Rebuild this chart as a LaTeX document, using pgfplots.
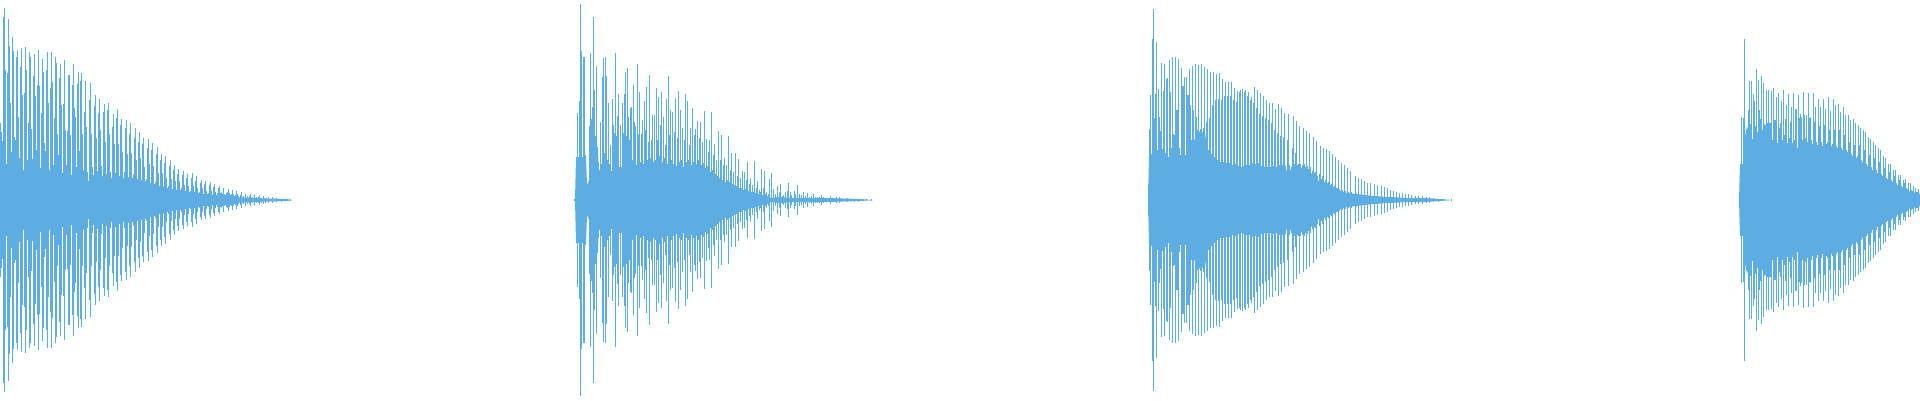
\documentclass[border=0pt]{standalone}
\usepackage{pgfplots}
\usepackage{pgfplotstable}
\pgfplotsset{compat=1.18}
\definecolor{wave}{HTML}{5DADE2}

% columns: pixel column, half height of the spike
\pgfplotstableread[row sep=\\]{x a\\
0.5 77\\ 1.5 68\\ 2.5 59\\ 3.5 183\\ 4.5 192\\ 5.5 130\\ 7.5 127\\ 8.5 181\\ 9.5 154\\ 10.5 97\\ 11.5 48\\ 12.5 163\\ 13.5 149\\ 14.5 63\\ 15.5 60\\ 16.5 143\\ 17.5 150\\ 18.5 83\\ 20.5 133\\ 21.5 152\\ 22.5 105\\ 24.5 107\\ 25.5 153\\ 26.5 130\\ 28.5 77\\ 29.5 148\\ 30.5 143\\ 31.5 71\\ 33.5 124\\ 34.5 146\\ 35.5 104\\ 37.5 115\\ 38.5 150\\ 39.5 114\\ 41.5 87\\ 42.5 141\\ 43.5 128\\ 44.5 57\\ 46.5 130\\ 47.5 148\\ 48.5 97\\ 50.5 112\\ 51.5 148\\ 52.5 118\\ 54.5 82\\ 55.5 143\\ 56.5 137\\ 57.5 66\\ 59.5 122\\ 60.5 136\\ 61.5 95\\ 63.5 96\\ 64.5 140\\ 65.5 70\\ 67.5 69\\ 68.5 125\\ 69.5 125\\ 70.5 65\\ 72.5 115\\ 73.5 136\\ 74.5 92\\ 75.5 83\\ 77.5 116\\ 78.5 128\\ 79.5 49\\ 80.5 119\\ 81.5 127\\ 82.5 66\\ 84.5 88\\ 85.5 119\\ 86.5 73\\ 89.5 100\\ 90.5 117\\ 91.5 66\\ 94.5 94\\ 95.5 105\\ 96.5 62\\ 98.5 87\\ 99.5 101\\ 100.5 70\\ 103.5 88\\ 104.5 96\\ 105.5 58\\ 107.5 90\\ 108.5 97\\ 109.5 66\\ 112.5 73\\ 113.5 86\\ 114.5 56\\ 116.5 82\\ 117.5 91\\ 118.5 56\\ 120.5 75\\ 121.5 81\\ 122.5 48\\ 125.5 72\\ 126.5 80\\ 127.5 46\\ 129.5 66\\ 130.5 77\\ 131.5 47\\ 134.5 62\\ 135.5 72\\ 136.5 40\\ 138.5 58\\ 139.5 68\\ 140.5 42\\ 142.5 56\\ 143.5 62\\ 144.5 33\\ 147.5 52\\ 148.5 61\\ 149.5 36\\ 151.5 50\\ 152.5 57\\ 153.5 34\\ 156.5 46\\ 157.5 53\\ 158.5 27\\ 160.5 40\\ 161.5 46\\ 162.5 27\\ 164.5 37\\ 165.5 44\\ 166.5 22\\ 169.5 34\\ 170.5 40\\ 171.5 21\\ 173.5 30\\ 174.5 35\\ 175.5 19\\ 177.5 26\\ 178.5 31\\ 179.5 19\\ 182.5 25\\ 183.5 29\\ 184.5 15\\ 186.5 22\\ 187.5 26\\ 188.5 14\\ 191.5 22\\ 192.5 27\\ 193.5 14\\ 195.5 19\\ 196.5 24\\ 197.5 12\\ 200.5 17\\ 201.5 20\\ 202.5 12\\ 204.5 16\\ 205.5 19\\ 206.5 9\\ 209.5 15\\ 210.5 18\\ 211.5 9\\ 213.5 13\\ 214.5 16\\ 215.5 8\\ 218.5 12\\ 219.5 14\\ 223.5 12\\ 228.5 11\\ 232.5 10\\ 236.5 9\\ 241.5 8\\ 245.5 6\\ 250.5 6\\ 254.5 5\\ 259.5 5\\ 263.5 4\\ 268.5 3\\ 272.5 3\\ 276.5 2\\ 281.5 1.5\\ 285.5 1\\ 290.5 1\\
6.5 36\\ 19.5 42\\ 23.5 30\\ 27.5 40\\ 32.5 41\\ 36.5 50\\ 40.5 32\\ 45.5 49\\ 49.5 30\\ 53.5 35\\ 58.5 45\\ 62.5 27\\ 66.5 35\\ 71.5 25\\ 76.5 33\\ 83.5 30\\ 87.5 28\\ 92.5 33\\ 93.5 25\\ 97.5 29\\ 101.5 34\\ 102.5 24\\ 106.5 26\\ 110.5 28\\ 111.5 22\\ 115.5 27\\ 119.5 24\\ 123.5 22\\ 124.5 28\\ 128.5 23\\ 132.5 22\\ 133.5 26\\ 137.5 21\\ 141.5 20\\ 145.5 19\\ 146.5 21\\ 150.5 17\\ 154.5 16\\ 155.5 18\\ 159.5 14\\ 163.5 14\\ 167.5 12\\ 168.5 14\\ 172.5 11\\ 176.5 10\\ 180.5 10\\ 181.5 12\\ 185.5 9\\ 189.5 8\\ 190.5 9\\ 194.5 8\\ 198.5 7\\ 199.5 8\\ 203.5 6\\ 207.5 6\\ 208.5 7\\ 212.5 5\\ 216.5 5\\ 217.5 7\\ 220.5 7\\ 221.5 8\\ 222.5 6\\ 224.5 6\\ 225.5 5\\ 226.5 7\\ 227.5 8\\ 229.5 7\\ 230.5 5\\ 231.5 6\\ 233.5 6\\ 234.5 4\\ 235.5 5\\ 237.5 6\\ 238.5 4\\ 240.5 5\\ 243.5 4\\ 247.5 4\\ 249.5 4\\ 252.5 3\\ 256.5 3\\ 258.5 3\\ 261.5 2.5\\ 265.5 2.5\\
}\wavea

\pgfplotstableread[row sep=\\]{x a\\
574.5 1\\ 575.5 5\\ 577.5 87\\ 579.5 99\\ 580.5 196\\ 581.5 149\\ 583.5 143\\ 584.5 143\\ 585.5 45\\ 586.5 23\\ 589.5 74\\ 590.5 147\\ 591.5 81\\ 592.5 93\\ 593.5 183\\ 594.5 110\\ 595.5 64\\ 596.5 134\\ 597.5 53\\ 600.5 78\\ 601.5 36\\ 602.5 123\\ 603.5 142\\ 604.5 47\\ 605.5 143\\ 606.5 124\\ 607.5 40\\ 608.5 97\\ 609.5 36\\ 610.5 55\\ 611.5 29\\ 612.5 101\\ 613.5 75\\ 614.5 67\\ 615.5 147\\ 616.5 64\\ 617.5 84\\ 618.5 106\\ 619.5 33\\ 620.5 75\\ 621.5 33\\ 622.5 97\\ 623.5 67\\ 624.5 106\\ 625.5 128\\ 626.5 64\\ 627.5 132\\ 628.5 83\\ 629.5 60\\ 630.5 92\\ 631.5 93\\ 633.5 115\\ 634.5 78\\ 635.5 74\\ 637.5 136\\ 638.5 66\\ 639.5 108\\ 641.5 66\\ 642.5 80\\ 644.5 99\\ 645.5 70\\ 646.5 113\\ 648.5 58\\ 649.5 125\\ 651.5 60\\ 652.5 85\\ 654.5 85\\ 656.5 112\\ 657.5 60\\ 658.5 103\\ 660.5 75\\ 661.5 108\\ 663.5 83\\ 665.5 55\\ 666.5 101\\ 668.5 124\\ 669.5 65\\ 670.5 90\\ 672.5 88\\ 674.5 68\\ 675.5 102\\ 677.5 62\\ 678.5 109\\ 680.5 90\\ 682.5 72\\ 684.5 60\\ 685.5 106\\ 687.5 99\\ 689.5 55\\ 690.5 72\\ 692.5 92\\ 694.5 65\\ 695.5 71\\ 697.5 79\\ 699.5 62\\ 700.5 78\\ 702.5 58\\ 704.5 89\\ 706.5 61\\ 708.5 48\\ 709.5 60\\ 711.5 88\\ 713.5 45\\ 714.5 56\\ 716.5 40\\ 718.5 69\\ 720.5 40\\ 721.5 65\\ 723.5 35\\ 724.5 42\\ 726.5 35\\ 728.5 64\\ 730.5 30\\ 731.5 47\\ 733.5 28\\ 735.5 47\\ 737.5 24\\ 738.5 41\\ 740.5 22\\ 742.5 29\\ 744.5 28\\ 746.5 20\\ 747.5 38\\ 749.5 16\\ 750.5 22\\ 752.5 15\\ 754.5 39\\ 756.5 12\\ 757.5 19\\ 759.5 10\\ 761.5 31\\ 763.5 12\\ 764.5 29\\ 766.5 8\\ 769.5 21\\ 771.5 27\\ 773.5 11\\ 777.5 14\\ 780.5 16\\ 783.5 5\\ 788.5 17\\ 790.5 8\\ 794.5 9\\ 797.5 15\\ 803.5 8\\ 807.5 7\\ 809.5 3\\ 813.5 6\\ 817.5 3\\ 821.5 5\\ 825.5 2\\ 830.5 4\\ 836.5 3\\ 839.5 3\\ 847.5 2\\ 854.5 1.5\\ 858.5 1.5\\ 863.5 1\\ 866.5 1\\ 871.5 1\\
598.5 38\\ 599.5 30\\ 632.5 40\\ 636.5 35\\ 640.5 38\\ 643.5 36\\ 647.5 40\\ 650.5 42\\ 653.5 38\\ 655.5 40\\ 659.5 44\\ 662.5 38\\ 664.5 42\\ 667.5 36\\ 671.5 40\\ 673.5 36\\ 676.5 34\\ 679.5 38\\ 681.5 40\\ 683.5 33\\ 686.5 38\\ 688.5 40\\ 691.5 35\\ 693.5 38\\ 696.5 36\\ 698.5 40\\ 701.5 35\\ 703.5 37\\ 705.5 32\\ 707.5 34\\ 710.5 28\\ 712.5 30\\ 715.5 26\\ 717.5 24\\ 719.5 22\\ 722.5 20\\ 725.5 18\\ 727.5 20\\ 729.5 18\\ 732.5 16\\ 734.5 15\\ 736.5 14\\ 739.5 12\\ 741.5 12\\ 743.5 10\\ 745.5 11\\ 748.5 9\\ 751.5 8\\ 753.5 8\\ 755.5 7\\ 758.5 6\\ 760.5 8\\ 762.5 5\\ 765.5 6\\ 767.5 4\\ 768.5 6\\ 775.5 6\\ 779.5 8\\ 782.5 4\\ 785.5 8\\ 787.5 9\\ 791.5 5\\ 795.5 6\\ 799.5 6\\ 801.5 5\\ 805.5 4\\ 811.5 4\\ 815.5 3\\ 819.5 3\\ 823.5 3\\
}\waveb

\pgfplotstableread[row sep=\\]{x a\\
1148.5 15\\ 1149.5 71\\ 1150.5 105\\ 1151.5 46\\ 1152.5 161\\ 1153.5 191\\ 1154.5 82\\ 1155.5 106\\ 1156.5 158\\ 1157.5 50\\ 1158.5 111\\ 1159.5 83\\ 1160.5 69\\ 1161.5 137\\ 1162.5 51\\ 1163.5 109\\ 1164.5 136\\ 1165.5 47\\ 1166.5 121\\ 1167.5 122\\ 1169.5 140\\ 1170.5 108\\ 1171.5 52\\ 1172.5 143\\ 1173.5 66\\ 1174.5 65\\ 1175.5 143\\ 1176.5 90\\ 1177.5 90\\ 1178.5 141\\ 1179.5 52\\ 1180.5 45\\ 1181.5 132\\ 1182.5 114\\ 1183.5 114\\ 1184.5 123\\ 1185.5 45\\ 1186.5 123\\ 1187.5 105\\ 1188.5 105\\ 1189.5 131\\ 1190.5 95\\ 1191.5 60\\ 1192.5 134\\ 1193.5 90\\ 1194.5 55\\ 1195.5 136\\ 1196.5 83\\ 1197.5 70\\ 1198.5 135\\ 1200.5 71\\ 1201.5 136\\ 1202.5 64\\ 1203.5 72\\ 1204.5 133\\ 1206.5 78\\ 1207.5 131\\ 1209.5 82\\ 1210.5 128\\ 1212.5 95\\ 1213.5 128\\ 1215.5 100\\ 1216.5 126\\ 1218.5 101\\ 1219.5 127\\ 1221.5 100\\ 1222.5 121\\ 1224.5 104\\ 1225.5 118\\ 1227.5 104\\ 1228.5 118\\ 1230.5 104\\ 1231.5 118\\ 1233.5 100\\ 1234.5 112\\ 1236.5 98\\ 1237.5 109\\ 1239.5 108\\ 1240.5 110\\ 1242.5 111\\ 1244.5 108\\ 1245.5 110\\ 1247.5 104\\ 1248.5 108\\ 1250.5 100\\ 1251.5 103\\ 1253.5 97\\ 1254.5 113\\ 1256.5 92\\ 1257.5 110\\ 1259.5 86\\ 1260.5 107\\ 1262.5 84\\ 1263.5 104\\ 1265.5 82\\ 1266.5 100\\ 1268.5 80\\ 1269.5 97\\ 1271.5 77\\ 1272.5 97\\ 1274.5 70\\ 1275.5 91\\ 1277.5 67\\ 1278.5 96\\ 1280.5 64\\ 1281.5 92\\ 1283.5 63\\ 1284.5 87\\ 1287.5 60\\ 1288.5 86\\ 1292.5 52\\ 1293.5 84\\ 1295.5 47\\ 1296.5 79\\ 1298.5 36\\ 1299.5 74\\ 1302.5 35\\ 1303.5 72\\ 1305.5 33\\ 1306.5 69\\ 1308.5 31\\ 1309.5 67\\ 1312.5 29\\ 1313.5 63\\ 1315.5 28\\ 1316.5 59\\ 1319.5 26\\ 1320.5 54\\ 1322.5 24\\ 1323.5 52\\ 1325.5 20\\ 1326.5 51\\ 1328.5 18\\ 1329.5 49\\ 1331.5 16\\ 1332.5 46\\ 1334.5 14\\ 1335.5 43\\ 1337.5 12\\ 1338.5 40\\ 1341.5 37\\ 1344.5 35\\ 1347.5 32\\ 1350.5 29\\ 1355.5 24\\ 1358.5 22\\ 1361.5 21\\ 1364.5 19\\ 1367.5 17\\ 1370.5 17\\ 1374.5 16\\ 1377.5 15\\ 1381.5 14\\ 1384.5 13\\ 1387.5 12\\ 1390.5 10\\ 1393.5 9\\ 1396.5 8\\ 1399.5 7\\ 1402.5 7\\ 1405.5 6\\ 1408.5 6\\ 1411.5 5\\ 1415.5 4\\ 1418.5 4\\ 1422.5 4\\ 1426.5 3\\ 1429.5 3\\ 1433.5 2\\ 1438.5 1.5\\ 1443.5 1\\ 1451.5 1\\
1208.5 50\\ 1211.5 46\\ 1214.5 43\\ 1217.5 40\\ 1220.5 38\\ 1223.5 38\\ 1226.5 37\\ 1229.5 37\\ 1232.5 35\\ 1235.5 36\\ 1238.5 34\\ 1241.5 33\\ 1243.5 34\\ 1246.5 35\\ 1249.5 35\\ 1252.5 37\\ 1255.5 36\\ 1258.5 37\\ 1261.5 34\\ 1264.5 33\\ 1267.5 33\\ 1270.5 33\\ 1273.5 34\\ 1276.5 33\\ 1279.5 35\\ 1282.5 35\\ 1285.5 34\\ 1289.5 35\\ 1291.5 33\\ 1294.5 36\\ 1297.5 35\\ 1300.5 36\\ 1304.5 36\\ 1307.5 34\\ 1310.5 33\\ 1314.5 27\\ 1317.5 24\\ 1321.5 21\\ 1324.5 18\\ 1327.5 17\\ 1330.5 15\\ 1333.5 13\\ 1336.5 12\\ 1339.5 11\\ 1342.5 10\\ 1345.5 9\\ 1348.5 8\\ 1351.5 8\\ 1356.5 7\\
}\wavec

\pgfplotstableread[row sep=\\]{x a\\
1739.5 3\\ 1741.5 83\\ 1743.5 82\\ 1744.5 161\\ 1748.5 90\\ 1749.5 119\\ 1750.5 76\\ 1751.5 119\\ 1753.5 106\\ 1754.5 99\\ 1755.5 74\\ 1756.5 131\\ 1757.5 68\\ 1758.5 120\\ 1759.5 90\\ 1760.5 81\\ 1761.5 124\\ 1762.5 70\\ 1763.5 117\\ 1764.5 76\\ 1765.5 75\\ 1766.5 110\\ 1767.5 77\\ 1768.5 110\\ 1769.5 77\\ 1770.5 77\\ 1771.5 109\\ 1772.5 60\\ 1773.5 112\\ 1774.5 80\\ 1775.5 80\\ 1776.5 103\\ 1777.5 57\\ 1778.5 107\\ 1779.5 72\\ 1780.5 77\\ 1781.5 99\\ 1782.5 60\\ 1783.5 110\\ 1784.5 65\\ 1785.5 81\\ 1786.5 95\\ 1787.5 57\\ 1788.5 106\\ 1789.5 62\\ 1790.5 78\\ 1791.5 93\\ 1792.5 57\\ 1793.5 107\\ 1794.5 60\\ 1795.5 91\\ 1796.5 91\\ 1798.5 105\\ 1799.5 82\\ 1800.5 86\\ 1801.5 83\\ 1803.5 108\\ 1804.5 85\\ 1806.5 85\\ 1808.5 107\\ 1809.5 82\\ 1810.5 83\\ 1813.5 107\\ 1814.5 78\\ 1815.5 93\\ 1818.5 101\\ 1819.5 74\\ 1820.5 93\\ 1823.5 101\\ 1824.5 75\\ 1825.5 91\\ 1828.5 103\\ 1829.5 70\\ 1830.5 89\\ 1833.5 101\\ 1834.5 70\\ 1835.5 95\\ 1838.5 96\\ 1839.5 70\\ 1840.5 88\\ 1843.5 93\\ 1844.5 65\\ 1845.5 85\\ 1848.5 85\\ 1849.5 58\\ 1850.5 80\\ 1853.5 81\\ 1854.5 55\\ 1855.5 77\\ 1858.5 75\\ 1859.5 55\\ 1860.5 72\\ 1863.5 70\\ 1864.5 50\\ 1865.5 68\\ 1868.5 63\\ 1869.5 45\\ 1870.5 61\\ 1873.5 58\\ 1874.5 42\\ 1875.5 55\\ 1878.5 52\\ 1879.5 38\\ 1880.5 50\\ 1883.5 44\\ 1884.5 32\\ 1885.5 42\\ 1888.5 36\\ 1889.5 28\\ 1890.5 36\\ 1893.5 30\\ 1894.5 24\\ 1895.5 30\\ 1898.5 25\\ 1899.5 20\\ 1900.5 25\\ 1903.5 20\\ 1904.5 17\\ 1905.5 21\\ 1908.5 17\\ 1910.5 17\\ 1913.5 14\\ 1915.5 12\\ 1918.5 11\\
1802.5 60\\ 1805.5 62\\ 1807.5 58\\ 1811.5 60\\ 1812.5 56\\ 1816.5 58\\ 1817.5 55\\ 1821.5 58\\ 1822.5 54\\ 1826.5 56\\ 1827.5 58\\ 1831.5 54\\ 1832.5 56\\ 1836.5 54\\ 1837.5 52\\ 1841.5 52\\ 1842.5 50\\ 1846.5 50\\ 1847.5 48\\ 1851.5 46\\ 1852.5 44\\ 1856.5 42\\ 1857.5 44\\ 1861.5 40\\ 1862.5 38\\ 1866.5 36\\ 1867.5 34\\ 1871.5 33\\ 1872.5 30\\ 1876.5 30\\ 1877.5 27\\ 1881.5 26\\ 1882.5 24\\ 1886.5 22\\ 1887.5 21\\ 1891.5 20\\ 1892.5 18\\ 1896.5 17\\ 1897.5 15\\ 1901.5 14\\ 1902.5 13\\ 1906.5 12\\ 1907.5 11\\ 1911.5 10\\ 1912.5 9\\ 1916.5 8\\ 1917.5 8\\
}\waved

% solid middle band of each burst
\pgfplotstableread[row sep=\\]{x a\\
0 22\\ 50 21\\ 100 19\\ 133 15\\ 167 10\\ 200 6\\ 233 3\\ 267 1.5\\ 287 1\\ 292 0\\
}\corea
\pgfplotstableread[row sep=\\]{x a\\
575 0\\ 576 43\\ 586 43\\ 587 15\\ 589 20\\ 590 74\\ 598 50\\ 599 26\\ 607 27\\ 620 28\\ 640 28\\ 660 30\\ 677 28\\ 693 28\\ 707 24\\ 717 16\\ 727 12\\ 743 8\\ 760 4\\ 770 2\\ 780 3\\ 793 2\\ 810 2\\ 827 2\\ 860 1\\ 873 0\\
}\coreb
\pgfplotstableread[row sep=\\]{x a\\
1148 0\\ 1149 44\\ 1177 43\\ 1180 40\\ 1187 42\\ 1190 46\\ 1195 62\\ 1200 69\\ 1205 66\\ 1208 50\\ 1213 38\\ 1220 33\\ 1230 32\\ 1240 30\\ 1257 31\\ 1267 28\\ 1280 29\\ 1290 30\\ 1300 32\\ 1305 31\\ 1310 28\\ 1317 20\\ 1327 14\\ 1337 10\\ 1347 7\\ 1357 6\\ 1373 4\\ 1390 3\\ 1407 2\\ 1423 2\\ 1440 1\\ 1452 0\\
}\corec
\pgfplotstableread[row sep=\\]{x a\\
1739 0\\ 1740 36\\ 1744 36\\ 1745 64\\ 1747 74\\ 1750 62\\ 1760 58\\ 1767 53\\ 1787 52\\ 1803 52\\ 1817 49\\ 1830 47\\ 1840 45\\ 1853 38\\ 1867 30\\ 1877 24\\ 1887 18\\ 1900 11\\ 1920 6\\
}\cored

\begin{document}
\begin{tikzpicture}
\path[use as bounding box] (0,0) rectangle (1920pt,400pt);
\begin{axis}[
	at={(0,0)},anchor=south west,
	scale only axis,width=1920pt,height=400pt,
	xmin=0,xmax=1920,ymin=-200,ymax=200,
	hide axis,clip=true]
\addplot[draw=none,fill=wave] table[x=x,y=a]{\corea} \closedcycle;
\addplot[draw=none,fill=wave] table[x=x,y expr=-\thisrow{a}]{\corea} \closedcycle;
\addplot[draw=none,fill=wave] table[x=x,y=a]{\coreb} \closedcycle;
\addplot[draw=none,fill=wave] table[x=x,y expr=-\thisrow{a}]{\coreb} \closedcycle;
\addplot[draw=none,fill=wave] table[x=x,y=a]{\corec} \closedcycle;
\addplot[draw=none,fill=wave] table[x=x,y expr=-\thisrow{a}]{\corec} \closedcycle;
\addplot[draw=none,fill=wave] table[x=x,y=a]{\cored} \closedcycle;
\addplot[draw=none,fill=wave] table[x=x,y expr=-\thisrow{a}]{\cored} \closedcycle;
\addplot[ycomb,wave,line width=1pt] table[x=x,y=a]{\wavea};
\addplot[ycomb,wave,line width=1pt] table[x=x,y expr=-\thisrow{a}]{\wavea};
\addplot[ycomb,wave,line width=1pt] table[x=x,y=a]{\waveb};
\addplot[ycomb,wave,line width=1pt] table[x=x,y expr=-\thisrow{a}]{\waveb};
\addplot[ycomb,wave,line width=1pt] table[x=x,y=a]{\wavec};
\addplot[ycomb,wave,line width=1pt] table[x=x,y expr=-\thisrow{a}]{\wavec};
\addplot[ycomb,wave,line width=1pt] table[x=x,y=a]{\waved};
\addplot[ycomb,wave,line width=1pt] table[x=x,y expr=-\thisrow{a}]{\waved};
\end{axis}
\end{tikzpicture}
\end{document}
